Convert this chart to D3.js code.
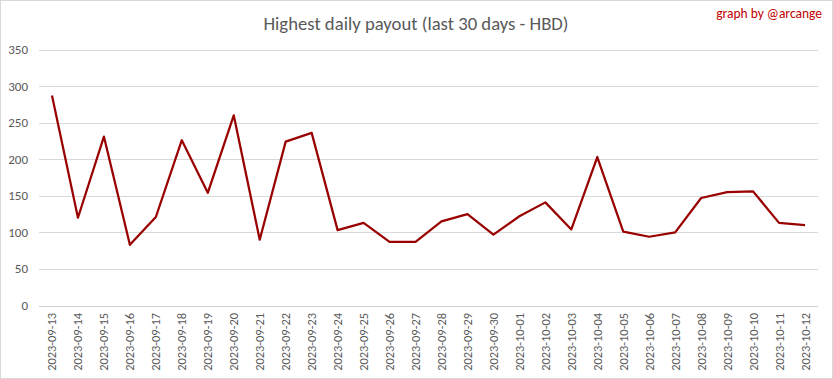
<!DOCTYPE html>
<html><head><meta charset="utf-8">
<script src="https://cdn.jsdelivr.net/npm/d3@7"></script>
<style>body{margin:0;background:#fff}svg{display:block}</style>
</head><body>
<svg id="c" width="833" height="379"></svg>
<script>
const dates = ["2023-09-13","2023-09-14","2023-09-15","2023-09-16","2023-09-17","2023-09-18","2023-09-19","2023-09-20","2023-09-21","2023-09-22","2023-09-23","2023-09-24","2023-09-25","2023-09-26","2023-09-27","2023-09-28","2023-09-29","2023-09-30","2023-10-01","2023-10-02","2023-10-03","2023-10-04","2023-10-05","2023-10-06","2023-10-07","2023-10-08","2023-10-09","2023-10-10","2023-10-11","2023-10-12"];
const payouts = [287,120,231,83,121,226,154,260,90,224,236,103,113,87,87,115,125,97,122,141,104,203,101,94,100,147,155,156,113,110];
const yTicks = [0,50,100,150,200,250,300,350];
const title = "Highest daily payout (last 30 days - HBD)";
const credit = "graph by @arcange";

const svg = d3.select("#c");
const W = 833, H = 379;
const font = "Carlito, Calibri, Lato, 'Open Sans', sans-serif";
svg.append("rect").attr("x",0.5).attr("y",0.5).attr("width",W-1).attr("height",H-1)
  .attr("fill","#fff").attr("stroke","#d9d9d9");

const x = d3.scaleBand().domain(dates).range([39, 818]);
const y = d3.scaleLinear().domain([0,350]).range([305.5, 49.5]);

const g = svg.append("g");
g.selectAll("line.grid").data(yTicks).join("line")
  .attr("x1",39).attr("x2",818)
  .attr("y1",d=>Math.round(y(d))+0.5).attr("y2",d=>Math.round(y(d))+0.5)
  .attr("stroke", d=> d===0 ? "#d0d0d0" : "#d9d9d9").attr("stroke-width",1);

g.selectAll("text.yt").data(yTicks).join("text")
  .attr("x",28).attr("y",d=>y(d)+4.5)
  .attr("text-anchor","end").attr("fill","#595959")
  .style("font-family",font).style("font-size","13px").text(d=>d);

g.selectAll("text.xt").data(dates).join("text")
  .attr("transform",d=>`translate(${x(d)+x.bandwidth()/2+4.5},313) rotate(-90)`)
  .attr("text-anchor","end").attr("fill","#595959")
  .style("font-family",font).style("font-size","12.4px").text(d=>d);

const line = d3.line().x((d,i)=>x(dates[i])+x.bandwidth()/2).y(d=>y(d));
g.append("path").datum(payouts).attr("d",line)
  .attr("fill","none").attr("stroke","#990000").attr("stroke-width",2.25)
  .attr("stroke-linejoin","round");

svg.append("text").attr("x",416).attr("y",30).attr("text-anchor","middle")
  .attr("fill","#595959").style("font-family",font).style("font-size","18.7px").text(title);
svg.append("text").attr("x",822).attr("y",18).attr("text-anchor","end")
  .attr("fill","#c00000").style("font-family",font).style("font-size","13.5px").text(credit);
</script>
</body></html>
